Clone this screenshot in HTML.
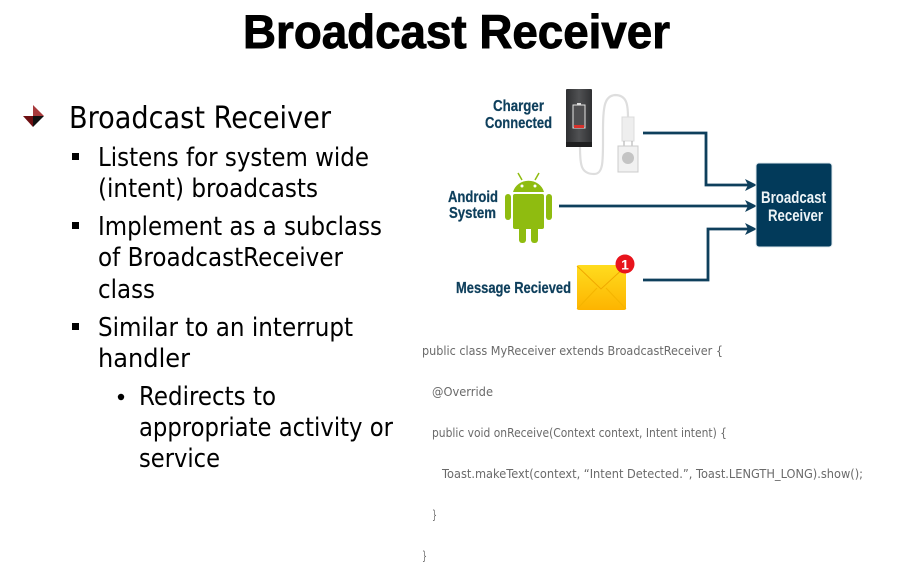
<!DOCTYPE html>
<html><head><meta charset="utf-8"><style>html,body{margin:0;padding:0;background:#fff}svg{display:block}</style></head><body>
<svg width="913" height="577" viewBox="0 0 913 577" xmlns="http://www.w3.org/2000/svg">
<defs><linearGradient id="env" x1="0" y1="0" x2="0" y2="1"><stop offset="0" stop-color="#ffdc1e"/><stop offset="1" stop-color="#fdb400"/></linearGradient>
<linearGradient id="bank" x1="0" y1="0" x2="1" y2="0"><stop offset="0" stop-color="#2f3032"/><stop offset=".5" stop-color="#505153"/><stop offset="1" stop-color="#303133"/></linearGradient></defs>
<rect width="913" height="577" fill="#fff"/>
<text x="243" y="48" font-family="Liberation Sans" font-weight="700" font-size="47" textLength="427" lengthAdjust="spacingAndGlyphs" fill="#000" stroke="#000" stroke-width="0.9">Broadcast Receiver</text>
<g font-family="DejaVu Sans" fill="#000">
<polygon points="33,105 44,116 33,116" fill="#a83a3c"/><polygon points="23,116 33,116 33,127" fill="#6d0f12"/><polygon points="33,116 44,116 33,127" fill="#111"/>
<text x="69" y="128" font-size="30" textLength="262" lengthAdjust="spacingAndGlyphs">Broadcast Receiver</text>
<rect x="72" y="153" width="7" height="7"/>
<text x="98" y="166" font-size="26" textLength="271" lengthAdjust="spacingAndGlyphs">Listens for system wide</text>
<text x="98" y="197" font-size="26" textLength="220" lengthAdjust="spacingAndGlyphs">(intent) broadcasts</text>
<rect x="72" y="222" width="7" height="7"/>
<text x="98" y="235" font-size="26" textLength="284" lengthAdjust="spacingAndGlyphs">Implement as a subclass</text>
<text x="98" y="266" font-size="26" textLength="245" lengthAdjust="spacingAndGlyphs">of BroadcastReceiver</text>
<text x="98" y="298" font-size="26" textLength="57" lengthAdjust="spacingAndGlyphs">class</text>
<rect x="72" y="323" width="7" height="7"/>
<text x="98" y="336" font-size="26" textLength="255" lengthAdjust="spacingAndGlyphs">Similar to an interrupt</text>
<text x="98" y="367" font-size="26" textLength="92" lengthAdjust="spacingAndGlyphs">handler</text>
<circle cx="121" cy="397" r="3.2"/>
<text x="139" y="405" font-size="26" textLength="137" lengthAdjust="spacingAndGlyphs">Redirects to</text>
<text x="139" y="436" font-size="26" textLength="254" lengthAdjust="spacingAndGlyphs">appropriate activity or</text>
<text x="139" y="467" font-size="26" textLength="81" lengthAdjust="spacingAndGlyphs">service</text>
</g>
<g font-family="Liberation Sans" font-weight="700" font-size="16" fill="#0e3f5c" stroke="#0e3f5c" stroke-width="0.25">
<text x="493" y="111" textLength="51" lengthAdjust="spacingAndGlyphs">Charger</text>
<text x="485" y="128" textLength="67" lengthAdjust="spacingAndGlyphs">Connected</text>
<text x="448" y="202" textLength="50" lengthAdjust="spacingAndGlyphs">Android</text>
<text x="449" y="218" textLength="47" lengthAdjust="spacingAndGlyphs">System</text>
<text x="456" y="293" textLength="115" lengthAdjust="spacingAndGlyphs">Message Recieved</text>
</g>
<!-- power bank -->
<rect x="566" y="89" width="26" height="58" rx="1" fill="url(#bank)"/><rect x="566" y="142" width="26" height="5" fill="#1f1f20"/>
<rect x="573" y="105" width="12" height="23" fill="#4f4f51" stroke="#e4e4e4" stroke-width="1"/><rect x="577" y="103" width="4" height="2" fill="#ddd"/><rect x="574" y="125" width="10" height="3" fill="#d8322c"/>
<path d="M580 147 C580 165 581 174 594 174 C604 174 603 160 603 130 C603 105 605 96 615 95 C627 95 628 105 628 118" fill="none" stroke="#dedede" stroke-width="2.2"/>
<rect x="622" y="117" width="12" height="24" fill="#eeeeee" stroke="#dcdcdc"/>
<path d="M624 141 v7 M632 141 v7" stroke="#aaa" stroke-width="1"/>
<rect x="618" y="146" width="20" height="26" fill="#f1f1f1" stroke="#ccc"/><circle cx="628" cy="158" r="6" fill="#c4c4c4"/>
<!-- android -->
<g fill="#8fbc10">
<path d="M513 192 a16 15 0 0 1 31 0 z"/><rect x="513" y="194" width="31" height="35" rx="2"/>
<rect x="505" y="194" width="6" height="26" rx="3"/><rect x="546" y="194" width="6" height="26" rx="3"/>
<rect x="519" y="226" width="7" height="17" rx="3"/><rect x="531" y="226" width="7" height="17" rx="3"/>
<path d="M518 173 l4 7 M539 173 l-4 7" stroke="#8fbc10" stroke-width="1.5"/>
</g>
<circle cx="522" cy="186" r="1.5" fill="#fff"/><circle cx="535" cy="186" r="1.5" fill="#fff"/>
<!-- envelope -->
<rect x="577" y="265" width="49" height="45" rx="2" fill="url(#env)"/>
<path d="M577 266 L601 289 L626 266" fill="none" stroke="#f0a800" stroke-width="1"/><path d="M577 309 L597 288 M626 309 L606 288" stroke="#f5b400" stroke-width="1"/>
<circle cx="625" cy="264" r="9.5" fill="#e8141c"/>
<text x="625" y="269.5" font-family="Liberation Sans" font-weight="700" font-size="14" fill="#fff" text-anchor="middle">1</text>
<!-- connectors -->
<g fill="none" stroke="#0e3f5c" stroke-width="2.8">
<path d="M643 133 H706 V185 H750"/><path d="M559 206 H750"/><path d="M643 280 H708 V229 H750"/>
</g>
<g fill="#0e3f5c">
<polygon points="757,185 745,179 748,185 745,191"/><polygon points="757,206 745,200 748,206 745,212"/><polygon points="757,229 745,223 748,229 745,235"/>
</g>
<rect x="756" y="163" width="76" height="84" rx="3" fill="#023a5a" stroke="#dfe8ee" stroke-width="1"/>
<g font-family="Liberation Sans" font-weight="700" font-size="17" fill="#eef4f7">
<text x="761" y="203" textLength="65" lengthAdjust="spacingAndGlyphs">Broadcast</text>
<text x="768" y="221" textLength="55" lengthAdjust="spacingAndGlyphs">Receiver</text>
</g>
<!-- code -->
<g font-family="DejaVu Sans" font-size="12.5" fill="#6a6a6a">
<text x="422" y="355" textLength="301" lengthAdjust="spacingAndGlyphs">public class MyReceiver extends BroadcastReceiver {</text>
<text x="432" y="396" textLength="61" lengthAdjust="spacingAndGlyphs">@Override</text>
<text x="432" y="437" textLength="295" lengthAdjust="spacingAndGlyphs">public void onReceive(Context context, Intent intent) {</text>
<text x="442" y="478" textLength="421" lengthAdjust="spacingAndGlyphs">Toast.makeText(context, “Intent Detected.”, Toast.LENGTH_LONG).show();</text>
<text x="432" y="519" textLength="5" lengthAdjust="spacingAndGlyphs">}</text>
<text x="422" y="560" textLength="5" lengthAdjust="spacingAndGlyphs">}</text>
</g>
</svg>
</body></html>
